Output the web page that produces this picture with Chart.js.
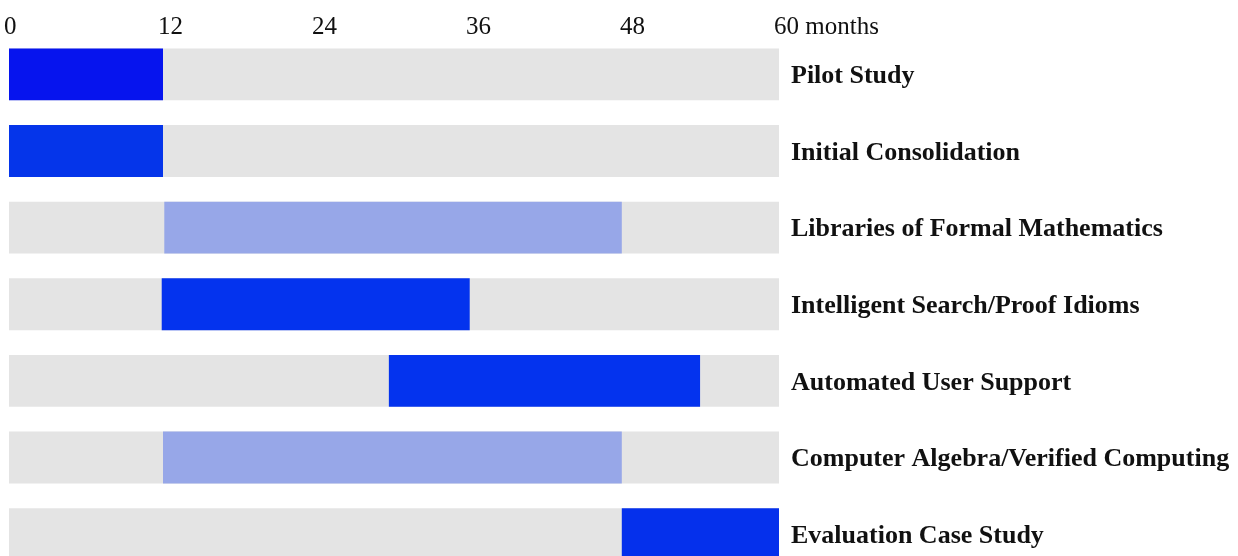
<!DOCTYPE html>
<html>
<head>
<meta charset="utf-8">
<script src="https://cdn.jsdelivr.net/npm/chart.js@4.4.1/dist/chart.umd.min.js"></script>
<style>
  html, body { margin: 0; padding: 0; background: #fff; overflow: hidden; }
  #wrap { position: relative; width: 1238px; height: 600px; }
</style>
</head>
<body>
<div id="wrap"><canvas id="c" width="1238" height="600"></canvas></div>
<script>
const tasks = [
  'Pilot Study',
  'Initial Consolidation',
  'Libraries of Formal Mathematics',
  'Intelligent Search/Proof Idioms',
  'Automated User Support',
  'Computer Algebra/Verified Computing',
  'Evaluation Case Study'
];
const startMonths = [0, 0, 12.1, 11.9, 29.6, 12, 47.75];
const endMonths = [12, 12, 47.75, 35.9, 53.85, 47.75, 60];
const barColors = ['#0614ee', '#0535ea', '#97a7e8', '#0433ee', '#0433ee', '#97a7e8', '#0530ec'];
const timelineMin = 0;
const timelineMax = 60;
const xTickLabels = ['0', '12', '24', '36', '48', '60 months'];

const spans = tasks.map((t, i) => [startMonths[i], endMonths[i]]);
const fullSpans = tasks.map(() => [timelineMin, timelineMax]);

new Chart(document.getElementById('c'), {
  type: 'bar',
  data: {
    labels: tasks,
    datasets: [
      {
        data: spans,
        backgroundColor: barColors,
        borderWidth: 0,
        order: 0
      },
      {
        data: fullSpans,
        backgroundColor: '#e4e4e4',
        borderWidth: 0,
        order: 1
      }
    ]
  },
  options: {
    indexAxis: 'y',
    responsive: false,
    animation: false,
    events: [],
    layout: { padding: { left: 9, right: 0, top: 0, bottom: 26 } },
    datasets: { bar: { grouped: false, barPercentage: 0.677, categoryPercentage: 1 } },
    plugins: { legend: { display: false }, tooltip: { enabled: false } },
    scales: {
      x: {
        position: 'top',
        min: timelineMin,
        max: timelineMax,
        grid: { display: false, drawTicks: false },
        border: { display: false },
        afterFit: (s) => { s.height = 36; },
        ticks: {
          stepSize: 12,
          align: 'start',
          labelOffset: -5,
          padding: -6,
          color: '#111',
          font: { family: '"Liberation Serif", serif', size: 25 },
          maxRotation: 0,
          autoSkip: false,
          callback: (v, i) => xTickLabels[i]
        }
      },
      y: {
        position: 'right',
        grid: { display: false, drawTicks: false },
        border: { display: false },
        afterFit: (s) => { s.width = 459; },
        ticks: {
          padding: 12,
          labelOffset: 2,
          color: '#111',
          font: { family: '"Liberation Serif", serif', size: 26, weight: 'bold' }
        }
      }
    }
  }
});
</script>
</body>
</html>
